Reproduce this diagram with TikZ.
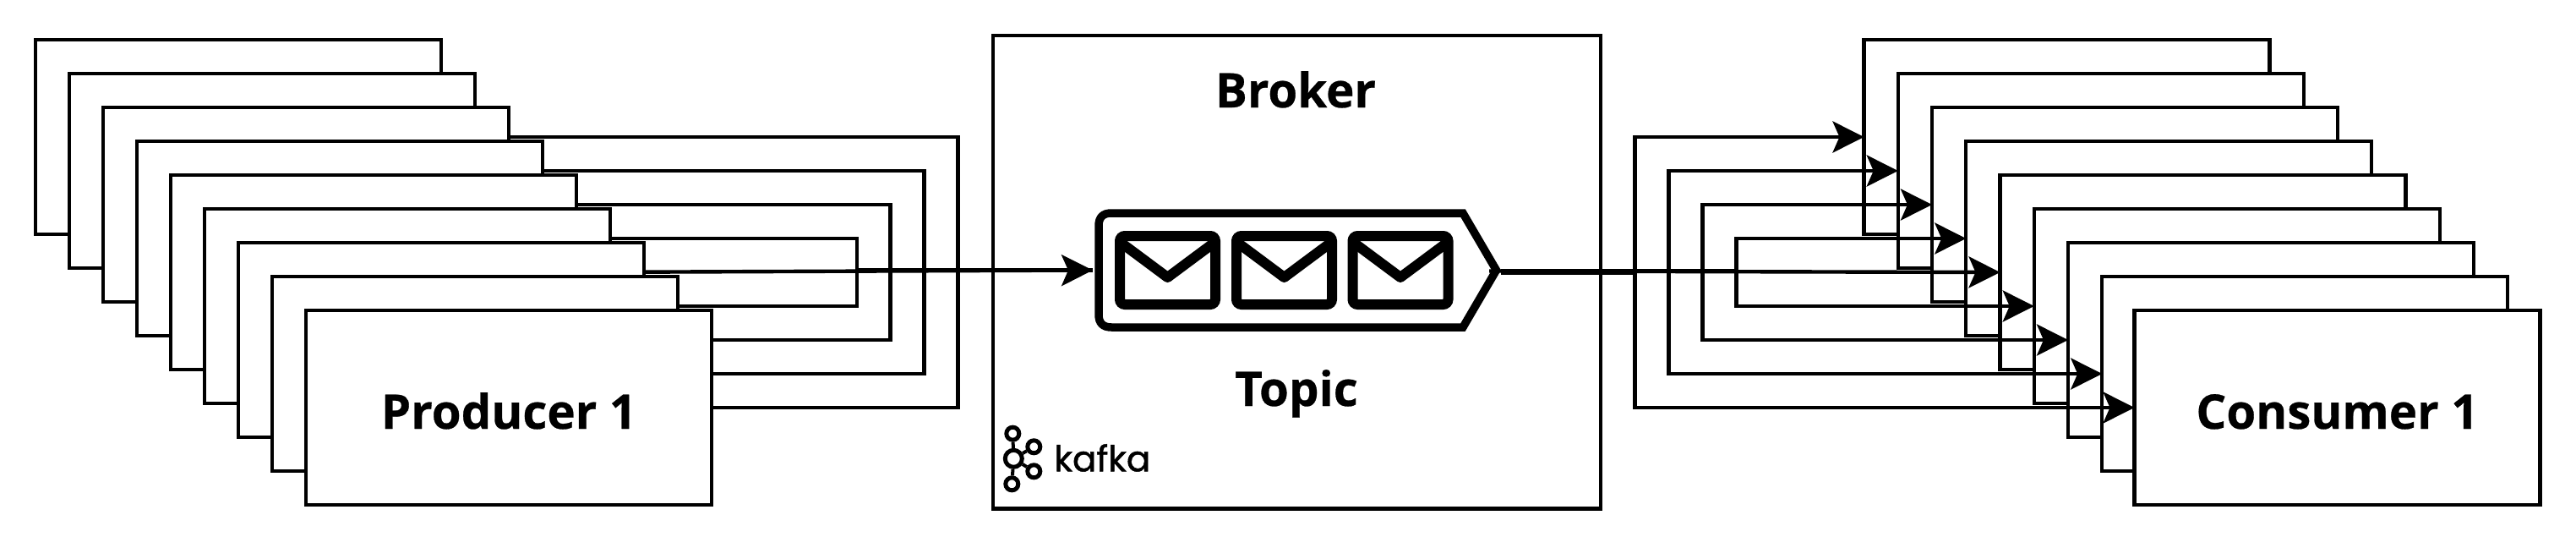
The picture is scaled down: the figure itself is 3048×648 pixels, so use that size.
\documentclass[tikz,border=0pt]{standalone}
\usepackage{fontspec}
\setmainfont{Open Sans}[BoldFeatures={FakeBold=0.5}]
\newfontfamily\logofont{Poppins}[FakeBold=1.2]
\usetikzlibrary{arrows.meta}
\pgfdeclarelayer{wirelayer}
\pgfsetlayers{wirelayer,main}
\tikzset{
  box/.style={draw=black,fill=white,line width=2.2pt,minimum width=240pt,minimum height=115pt,inner sep=0pt,outer sep=0pt,text height=25pt,text depth=0pt,font=\fontsize{28.2}{34}\selectfont\bfseries},
  frame/.style={draw=black,line width=2.2pt,minimum width=359.5pt,minimum height=279.75pt,inner sep=0pt,outer sep=0pt},
  title/.style={anchor=base,inner sep=0pt,font=\fontsize{28.2}{34}\selectfont\bfseries},
  wire/.style={draw=black,line width=2.2pt},
  flow/.style={wire,-{Stealth[length=18.5pt,width=18.5pt,inset=4pt]}},
  envelope/.style={draw=black,line width=6pt,rounded corners=3pt},
  flap/.style={draw=black,line width=6pt,line join=round},
  topicline/.style={draw=black,line width=4.75pt},
  logoring/.style={draw=black,line width=2.5pt,circle,inner sep=0pt},
  logoline/.style={draw=black,line width=2pt},
}
\begin{document}
\begin{tikzpicture}[x=0.5pt,y=-0.5pt]
\useasboundingbox (0,0) rectangle (3048,648);
% producers
\foreach \i in {0,...,7}{\node[box] (p\i) at ({282+40*\i},{162+40*\i}) {};}
\node[box] (p8) at (602,482) {Producer 1};
% broker
\node[frame] (broker) at (1534.5,321.75) {};
\node[title] (brokerlabel) at (1533,127) {Broker};
\node[title] (topiclabel) at (1534,480) {Topic};
% topic
\coordinate (topicin) at (1293,319.5);
\coordinate (topicout) at (1776,320);
\coordinate (topicstub) at (1762,320.5);
\draw[topicline] (1731,252) -- (1770.5,319.5) -- (1731,387) -- (1315,387) .. controls (1305,387) and (1300,382) .. (1300,372) -- (1300,267) .. controls (1300,257) and (1305,252) .. (1315,252) -- cycle;
\foreach \c in {1381.5,1519.5,1657}{
  \draw[envelope] (\c-56.5,279) rectangle (\c+56.5,360);
  \draw[flap] (\c-56.5,286) -- (\c,328) -- (\c+56.5,286);
}
% logo
\node[logoring,minimum size=7.5pt] (l1) at (1198.3,512.7) {};
\node[logoring,minimum size=10pt] (l2) at (1199.3,542.3) {};
\node[logoring,minimum size=7.5pt] (l3) at (1197.3,572.3) {};
\node[logoring,minimum size=7.5pt] (l4) at (1223.3,528.3) {};
\node[logoring,minimum size=7.5pt] (l5) at (1223.3,557.3) {};
\draw[logoline] (l1) -- (l2);
\draw[logoline] (l2) -- (l3);
\draw[logoline] (l2) -- (l4);
\draw[logoline] (l2) -- (l5);
\node[anchor=base west,inner sep=0pt,font=\logofont\fontsize{21}{24}\selectfont] (kafka) at (1247,557.3) {kafka};
% producer wires, behind the boxes
\begin{pgfonlayer}{wirelayer}
\foreach \i/\x in {0/1133.5,1/1093.5,2/1053.5,3/1014,5/1014,6/1053.5,7/1093.5,8/1133.5}{
  \coordinate (pj\i) at (\x,319.5);
  \draw[wire] (p\i.east) -| (pj\i) -- (topicin);
}
\draw[flow] (p4.east) -- (topicin);
\end{pgfonlayer}
% consumers
\foreach \i in {0,...,7}{\node[box] (c\i) at ({2445.5+40.25*\i},{162+40*\i}) {};}
\node[box] (c8) at (2765.5,482) {Consumer 1};
% consumer wires
\foreach \i/\x in {1/1974.5,2/2014.5,3/2054.5,5/2054.5,6/2014.5,7/1974.5}{
  \coordinate (cj\i) at (\x,320);
  \draw[flow] (topicout) -- (cj\i) |- (c\i.west);
}
\foreach \i in {0,8}{
  \coordinate (cs\i) at (1776,322.7);
  \coordinate (cj\i) at (1934.4,322.7);
  \draw[flow] (cs\i) -- (cj\i) |- (c\i.west);
}
\draw[flow] (topicstub) -- (c4.west);
\end{tikzpicture}
\end{document}
